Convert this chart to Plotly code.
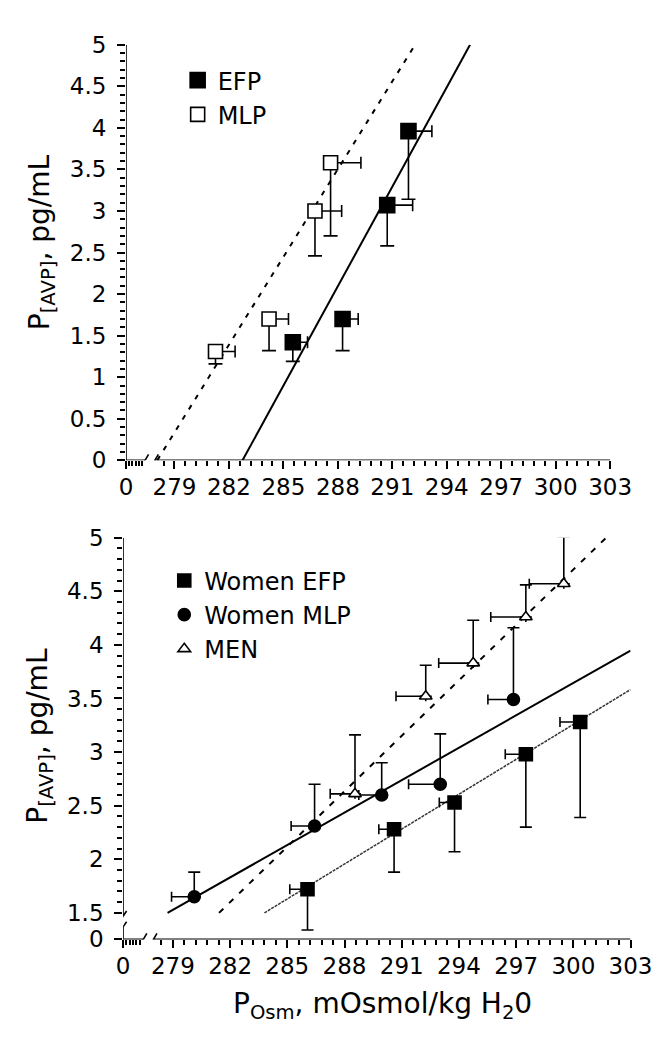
import plotly.graph_objects as go

# ---------------- data: top panel ----------------
efp_x = [285.52, 288.26, 290.72, 291.89]
efp_y = [1.42, 1.70, 3.07, 3.96]
efp_xerr = [0.81, 0.86, 1.40, 1.29]
efp_yerr = [0.23, 0.38, 0.49, 0.82]

mlp_x = [281.26, 284.21, 286.74, 287.60]
mlp_y = [1.31, 1.70, 3.00, 3.58]
mlp_xerr = [1.08, 1.07, 1.47, 1.67]
mlp_yerr = [0.15, 0.38, 0.54, 0.88]

# regression lines (x where y = 0, slope): EFP, MLP
top_fit_x0 = [282.75, 278.05]
top_fit_slope = [0.399, 0.352]

# ---------------- data: bottom panel ----------------
wefp_x = [286.06, 290.60, 293.77, 297.51, 300.36]
wefp_y = [1.72, 2.28, 2.53, 2.98, 3.28]
wefp_xerr = [0.93, 0.80, 0.80, 1.08, 1.06]
wefp_yerr = [0.38, 0.40, 0.46, 0.68, 0.89]

wmlp_x = [280.12, 286.43, 289.95, 293.02, 296.86]
wmlp_y = [1.65, 2.31, 2.60, 2.70, 3.49]
wmlp_xerr = [1.19, 1.23, 1.20, 1.66, 1.34]
wmlp_yerr = [0.23, 0.39, 0.30, 0.47, 0.67]

men_x = [288.55, 292.26, 294.75, 297.51, 299.50]
men_y = [2.61, 3.52, 3.83, 4.26, 4.57]
men_xerr = [1.30, 1.56, 1.81, 1.84, 1.81]
men_yerr = [0.55, 0.29, 0.40, 0.30, 0.44]

# regression lines (x where y = 1.5, slope): Women MLP, MEN, Women EFP
bot_fit_x15 = [278.72, 281.42, 283.80]
bot_fit_slope = [0.1008, 0.1724, 0.1085]

x_major = [279, 282, 285, 288, 291, 294, 297, 300, 303]
top_y_major = [0, 0.5, 1, 1.5, 2, 2.5, 3, 3.5, 4, 4.5, 5]
bot_y_major = [1.5, 2, 2.5, 3, 3.5, 4, 4.5, 5]

# ---------------- axis-break helpers ----------------
X_ZERO_TOP = 276.33   # plotted position of the "0" label (broken axis)
X_ZERO_BOT = 276.39
Y_ZERO_BOT = 1.2525
XMAX = 303
YMAX = 5

FONT = "DejaVu Sans, Liberation Sans, Arial, sans-serif"
W, H = 672, 1050

fig = go.Figure()


def fit_line(x_at, slope, y_start, xmax, ymax):
    x_end = min(xmax, x_at + (ymax - y_start) / slope)
    y_end = y_start + slope * (x_end - x_at)
    return [x_at, x_end], [y_start, y_end]


# top fits
for x0, s, dash in zip(top_fit_x0, top_fit_slope, ["solid", "5px,7px"]):
    lx, ly = fit_line(x0, s, 0, XMAX, YMAX)
    fig.add_trace(go.Scatter(x=lx, y=ly, mode="lines", xaxis="x", yaxis="y",
                             line=dict(color="black", width=2, dash=dash),
                             showlegend=False, hoverinfo="skip"))

# bottom fits
bot_styles = [dict(color="black", width=2, dash="solid"),
              dict(color="black", width=2, dash="6px,8px"),
              dict(color="#333333", width=1.5, dash="3px,1px")]
for x0, s, st in zip(bot_fit_x15, bot_fit_slope, bot_styles):
    lx, ly = fit_line(x0, s, 1.5, XMAX, YMAX)
    fig.add_trace(go.Scatter(x=lx, y=ly, mode="lines", xaxis="x2", yaxis="y2",
                             line=st, showlegend=False, hoverinfo="skip"))


def zeros(n):
    return [0] * n


def err_trace(name, x, y, xe, ye, ax, ay, symbol, size, fill, legend,
              y_down, x_right, capy, capx):
    n = len(x)
    ey = dict(type="data", symmetric=False,
              array=zeros(n) if y_down else ye,
              arrayminus=ye if y_down else zeros(n),
              color="black", thickness=1.6, width=capy)
    ex = dict(type="data", symmetric=False,
              array=xe if x_right else zeros(n),
              arrayminus=zeros(n) if x_right else xe,
              color="black", thickness=1.6, width=capx)
    return go.Scatter(x=x, y=y, mode="markers", name=name, xaxis=ax, yaxis=ay,
                      marker=dict(symbol=symbol, size=size, color=fill,
                                  line=dict(color="black", width=1.6)),
                      error_x=ex, error_y=ey, legend=legend, cliponaxis=False)


fig.add_trace(err_trace("EFP", efp_x, efp_y, efp_xerr, efp_yerr, "x", "y",
                        "square", 15, "black", "legend", True, True, 7, 6))
fig.add_trace(err_trace("MLP", mlp_x, mlp_y, mlp_xerr, mlp_yerr, "x", "y",
                        "square", 14, "white", "legend", True, True, 7, 6))

fig.add_trace(err_trace("Women EFP", wefp_x, wefp_y, wefp_xerr, wefp_yerr, "x2", "y2",
                        "square", 13, "black", "legend2", True, False, 6, 5))
fig.add_trace(err_trace("Women MLP", wmlp_x, wmlp_y, wmlp_xerr, wmlp_yerr, "x2", "y2",
                        "circle", 12, "black", "legend2", False, False, 6, 5))
fig.add_trace(err_trace("MEN", men_x, men_y, men_xerr, men_yerr, "x2", "y2",
                        "triangle-up", 11, "white", "legend2", False, False, 6, 5))

tickfont = dict(family=FONT, size=23, color="black")


def xaxis_cfg(domain, anchor, x_zero):
    minor_vals = [x_zero + 0.175 * k for k in range(1, 6)]
    v = 278.4
    while v < XMAX + 1e-6:
        if all(abs(v - m) > 1e-6 for m in x_major):
            minor_vals.append(round(v, 3))
        v += 0.6
    return dict(domain=domain, anchor=anchor, range=[x_zero, XMAX],
                tickmode="array", tickvals=[x_zero] + x_major,
                ticktext=["0"] + [str(t) for t in x_major],
                ticks="outside", ticklen=8, tickwidth=1.5, tickcolor="black",
                minor=dict(tickmode="array", tickvals=minor_vals, ticks="outside",
                           ticklen=5, tickwidth=1.5, tickcolor="black"),
                showline=False, showgrid=False, zeroline=False,
                tickfont=tickfont, ticklabelstandoff=-2, fixedrange=True)


def yaxis_cfg(domain, anchor, rng, vals, text, minor_vals):
    return dict(domain=domain, anchor=anchor, range=rng,
                tickmode="array", tickvals=vals, ticktext=text,
                ticks="outside", ticklen=8, tickwidth=1.5, tickcolor="black",
                minor=dict(tickmode="array", tickvals=minor_vals, ticks="outside",
                           ticklen=5, tickwidth=1.5, tickcolor="black"),
                showline=False, showgrid=False, zeroline=False,
                tickfont=tickfont, ticklabelstandoff=6, fixedrange=True)


def fmt(v):
    return ("%g" % v)


top_minor = [round(k * 0.1, 2) for k in range(1, 50) if k % 5 != 0]
bot_minor = [round(k * 0.1, 2) for k in range(16, 50) if k % 5 != 0]

top_xdom = [116 / W, 622 / W]
top_ydom = [1 - 450.5 / H, 1 - 24.3 / H]
bot_xdom = [113 / W, 643.3 / W]
bot_ydom = [1 - 941.7 / H, 1 - 529.8 / H]

shapes = []
LW = 1.6
# top axis lines with x-break
shapes += [
    dict(type="line", xref="x", yref="y", x0=X_ZERO_TOP, x1=X_ZERO_TOP, y0=0, y1=YMAX,
         line=dict(color="black", width=LW)),
    dict(type="line", xref="x", yref="y", x0=X_ZERO_TOP, x1=277.38, y0=0, y1=0,
         line=dict(color="black", width=LW)),
    dict(type="line", xref="x", yref="y", x0=277.92, x1=XMAX, y0=0, y1=0,
         line=dict(color="black", width=LW)),
]
for xb in [277.38, 277.92]:
    shapes.append(dict(type="line", xref="x", yref="y", xsizemode="pixel", ysizemode="pixel",
                       xanchor=xb, yanchor=0, x0=-3.5, x1=3.5, y0=-6, y1=6,
                       line=dict(color="black", width=LW)))
# bottom axis lines with x- and y-breaks
shapes += [
    dict(type="line", xref="x2", yref="y2", x0=X_ZERO_BOT, x1=X_ZERO_BOT, y0=1.47, y1=YMAX,
         line=dict(color="black", width=LW)),
    dict(type="line", xref="x2", yref="y2", x0=X_ZERO_BOT, x1=X_ZERO_BOT, y0=Y_ZERO_BOT, y1=1.37,
         line=dict(color="black", width=LW)),
    dict(type="line", xref="x2", yref="y2", x0=X_ZERO_BOT, x1=277.45, y0=Y_ZERO_BOT, y1=Y_ZERO_BOT,
         line=dict(color="black", width=LW)),
    dict(type="line", xref="x2", yref="y2", x0=277.98, x1=XMAX, y0=Y_ZERO_BOT, y1=Y_ZERO_BOT,
         line=dict(color="black", width=LW)),
]
for xb in [277.45, 277.98]:
    shapes.append(dict(type="line", xref="x2", yref="y2", xsizemode="pixel", ysizemode="pixel",
                       xanchor=xb, yanchor=Y_ZERO_BOT, x0=-3.5, x1=3.5, y0=-6, y1=6,
                       line=dict(color="black", width=LW)))
for yb in [1.47, 1.37]:
    shapes.append(dict(type="line", xref="x2", yref="y2", xsizemode="pixel", ysizemode="pixel",
                       xanchor=X_ZERO_BOT, yanchor=yb, x0=-3.5, x1=3.5, y0=-5, y1=5,
                       line=dict(color="black", width=LW)))

TITLE = dict(family=FONT, size=28, color="black")
annotations = [
    dict(text="P<sub>[AVP]</sub>, pg/mL", textangle=-90, xref="paper", yref="paper",
         x=28 / W, y=1 - 227 / H, showarrow=False, font=TITLE,
         xanchor="center", yanchor="middle"),
    dict(text="P<sub>[AVP]</sub>, pg/mL", textangle=-90, xref="paper", yref="paper",
         x=26 / W, y=1 - 733 / H, showarrow=False, font=TITLE,
         xanchor="center", yanchor="middle"),
    dict(text="P<sub>Osm</sub>, mOsmol/kg H<sub>2</sub>0", xref="paper", yref="paper",
         x=384 / W, y=1 - 1010 / H, showarrow=False, font=TITLE,
         xanchor="center", yanchor="middle"),
]

LEGFONT = dict(family=FONT, size=24, color="black")
fig.update_layout(
    width=W, height=H, paper_bgcolor="white", plot_bgcolor="white",
    margin=dict(l=0, r=0, t=0, b=0),
    xaxis=xaxis_cfg(top_xdom, "y", X_ZERO_TOP),
    yaxis=yaxis_cfg(top_ydom, "x", [0, YMAX], top_y_major,
                    [fmt(v) for v in top_y_major], top_minor),
    xaxis2=xaxis_cfg(bot_xdom, "y2", X_ZERO_BOT),
    yaxis2=yaxis_cfg(bot_ydom, "x2", [Y_ZERO_BOT, YMAX], [Y_ZERO_BOT] + bot_y_major,
                     ["0"] + [fmt(v) for v in bot_y_major], bot_minor),
    shapes=shapes, annotations=annotations,
    legend=dict(x=170 / W, y=1 - 38 / H, xanchor="left", yanchor="top",
                bgcolor="rgba(0,0,0,0)", font=LEGFONT, borderwidth=0),
    legend2=dict(x=156 / W, y=1 - 551 / H, xanchor="left", yanchor="top",
                 bgcolor="rgba(0,0,0,0)", font=LEGFONT, borderwidth=0),
    showlegend=True,
)

fig.write_html("out.html")
